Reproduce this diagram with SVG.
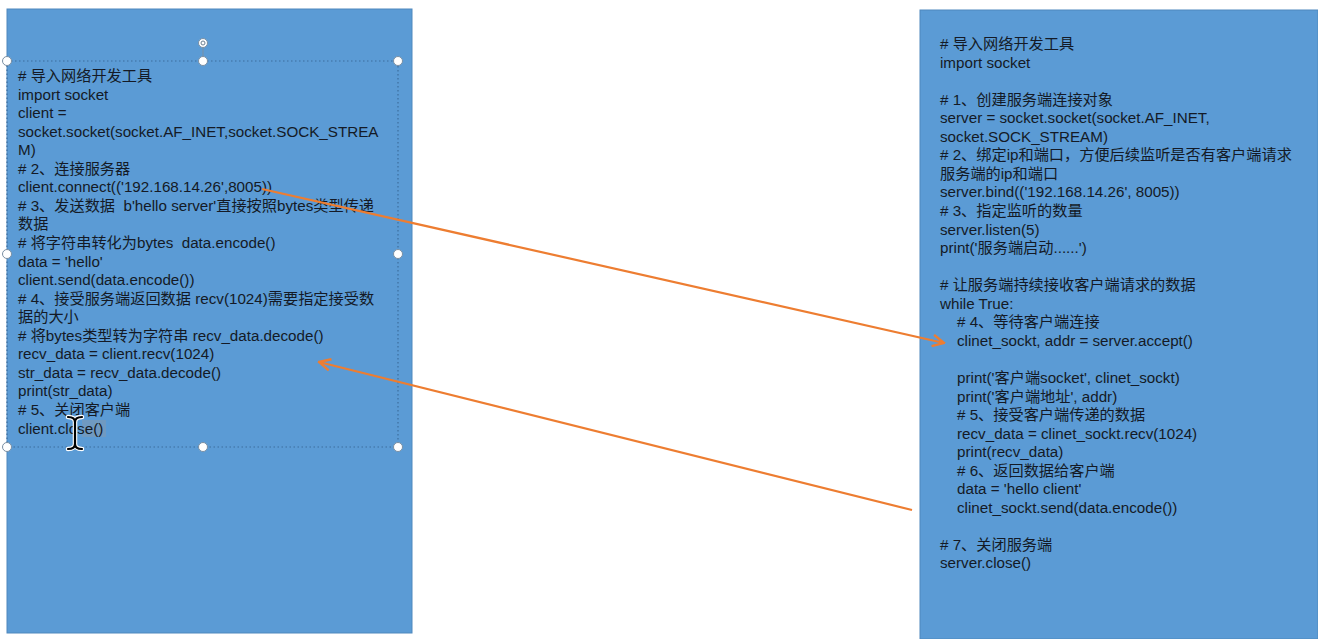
<svg xmlns="http://www.w3.org/2000/svg" width="1318" height="639" viewBox="0 0 1318 639">
<style>
.panel{fill:#5b9bd5;stroke:#4f88bd;stroke-width:1}
.code{font-family:"Liberation Sans","Noto Sans CJK SC",sans-serif;font-size:15.2px;fill:#141a26;white-space:pre}
.sel{fill:none;stroke:#3d6e9e;stroke-width:1.2;stroke-dasharray:1.5 2.5}
.handle{fill:#ffffff;stroke:#7a8fa3;stroke-width:1}
.conn{fill:none;stroke:#ed7d31;stroke-width:2.2}
</style>
<defs>
<marker id="ah" viewBox="0 0 10 10" refX="9" refY="5" markerWidth="6.5" markerHeight="6.5" orient="auto" markerUnits="strokeWidth">
<path d="M1,1 L9,5 L1,9" fill="none" stroke="#ed7d31" stroke-width="1.7"/>
</marker>
</defs>
<rect width="1318" height="639" fill="#ffffff"/>
<g id="client">
<rect class="panel" x="7" y="9" width="405" height="624"/>
<rect x="82" y="420" width="24" height="17" fill="#8a9aa8" opacity="0.45"/>
<text class="code" x="18" y="81"># 导入网络开发工具</text>
<text class="code" x="18" y="99.5">import socket</text>
<text class="code" x="18" y="118">client =</text>
<text class="code" x="18" y="136.7">socket.socket(socket.AF_INET,socket.SOCK_STREA</text>
<text class="code" x="18" y="155.2">M)</text>
<text class="code" x="18" y="173.8"># 2、连接服务器</text>
<text class="code" x="18" y="192.3">client.connect(('192.168.14.26',8005))</text>
<text class="code" x="18" y="210.9"># 3、发送数据  b'hello server'直接按照bytes类型传递</text>
<text class="code" x="18" y="229.4">数据</text>
<text class="code" x="18" y="248"># 将字符串转化为bytes  data.encode()</text>
<text class="code" x="18" y="266.5">data = 'hello'</text>
<text class="code" x="18" y="285">client.send(data.encode())</text>
<text class="code" x="18" y="303.6"># 4、接受服务端返回数据 recv(1024)需要指定接受数</text>
<text class="code" x="18" y="322.2">据的大小</text>
<text class="code" x="18" y="340.7"># 将bytes类型转为字符串 recv_data.decode()</text>
<text class="code" x="18" y="359.2">recv_data = client.recv(1024)</text>
<text class="code" x="18" y="377.8">str_data = recv_data.decode()</text>
<text class="code" x="18" y="396.4">print(str_data)</text>
<text class="code" x="18" y="414.9"># 5、关闭客户端</text>
<text class="code" x="18" y="433.5">client.close()</text>
</g>
<g id="selection">
<rect class="sel" x="7" y="61" width="391" height="386"/>
<line x1="203" y1="47" x2="203" y2="61" stroke="#7a8fa3" stroke-width="1"/>
<circle class="handle" cx="203" cy="43" r="4.5"/>
<circle cx="203" cy="43" r="2" fill="none" stroke="#6d7f91" stroke-width="1"/>
<circle class="handle" cx="7" cy="61" r="4.5"/>
<circle class="handle" cx="203" cy="61" r="4.5"/>
<circle class="handle" cx="398" cy="61" r="4.5"/>
<circle class="handle" cx="7" cy="254" r="4.5"/>
<circle class="handle" cx="398" cy="254" r="4.5"/>
<circle class="handle" cx="7" cy="447" r="4.5"/>
<circle class="handle" cx="203" cy="447" r="4.5"/>
<circle class="handle" cx="398" cy="447" r="4.5"/>
<path d="M68,417 Q75,417 75,422 Q75,417 82,417 M75,422 L75,444 M68,449 Q75,449 75,444 Q75,449 82,449" fill="none" stroke="#ffffff" stroke-width="4.5" stroke-linecap="round"/>
<path d="M68,417 Q75,417 75,422 Q75,417 82,417 M75,422 L75,444 M68,449 Q75,449 75,444 Q75,449 82,449" fill="none" stroke="#000000" stroke-width="2.2" stroke-linecap="round"/>
</g>
<g id="server">
<rect class="panel" x="920" y="10" width="398" height="629"/>
<text class="code" x="940" y="49"># 导入网络开发工具</text>
<text class="code" x="940" y="67.5">import socket</text>
<text class="code" x="940" y="104.6"># 1、创建服务端连接对象</text>
<text class="code" x="940" y="123.2">server = socket.socket(socket.AF_INET,</text>
<text class="code" x="940" y="141.7">socket.SOCK_STREAM)</text>
<text class="code" x="940" y="160.3"># 2、绑定ip和端口，方便后续监听是否有客户端请求</text>
<text class="code" x="940" y="178.8">服务端的ip和端口</text>
<text class="code" x="940" y="197.4">server.bind(('192.168.14.26', 8005))</text>
<text class="code" x="940" y="215.9"># 3、指定监听的数量</text>
<text class="code" x="940" y="234.5">server.listen(5)</text>
<text class="code" x="940" y="253">print('服务端启动......')</text>
<text class="code" x="940" y="290.2"># 让服务端持续接收客户端请求的数据</text>
<text class="code" x="940" y="308.7">while True:</text>
<text class="code" x="957" y="327.3"># 4、等待客户端连接</text>
<text class="code" x="957" y="345.8">clinet_sockt, addr = server.accept()</text>
<text class="code" x="957" y="382.9">print('客户端socket', clinet_sockt)</text>
<text class="code" x="957" y="401.5">print('客户端地址', addr)</text>
<text class="code" x="957" y="420"># 5、接受客户端传递的数据</text>
<text class="code" x="957" y="438.6">recv_data = clinet_sockt.recv(1024)</text>
<text class="code" x="957" y="457.1">print(recv_data)</text>
<text class="code" x="957" y="475.7"># 6、返回数据给客户端</text>
<text class="code" x="957" y="494.2">data = 'hello client'</text>
<text class="code" x="957" y="512.8">clinet_sockt.send(data.encode())</text>
<text class="code" x="940" y="549.9"># 7、关闭服务端</text>
<text class="code" x="940" y="568.4">server.close()</text>
</g>
<g id="connectors">
<line class="conn" x1="262" y1="189" x2="944" y2="343" marker-end="url(#ah)"/>
<line class="conn" x1="912" y1="510" x2="319" y2="362" marker-end="url(#ah)"/>
</g>
</svg>
